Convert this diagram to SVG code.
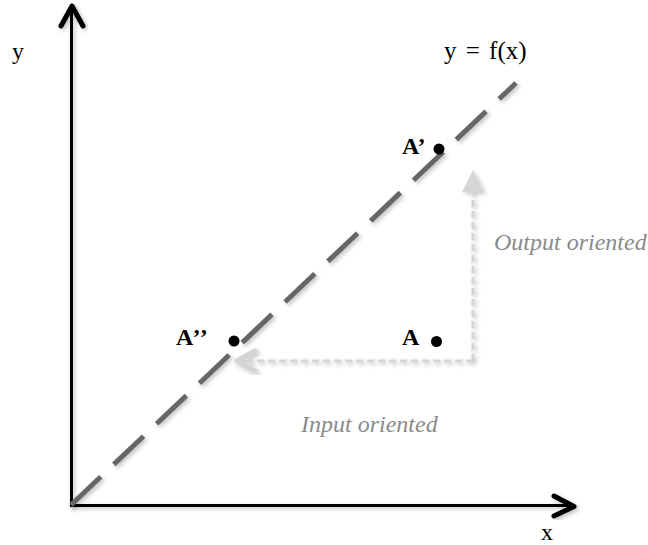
<svg xmlns="http://www.w3.org/2000/svg" width="648" height="545" viewBox="0 0 648 545">
  <defs>
    <filter id="sh" x="-20%" y="-20%" width="140%" height="140%">
      <feDropShadow dx="2" dy="2" stdDeviation="2" flood-color="#000" flood-opacity="0.25"/>
    </filter>
  </defs>
  <style>
    .axis { stroke: #000; stroke-width: 3; fill: none; }
    .head { stroke: #000; stroke-width: 5; fill: none; stroke-linecap: round; stroke-linejoin: round; }
    .func { stroke: #666; stroke-width: 5; fill: none; stroke-dasharray: 41 18; }
    .guide { stroke: #d4d4d4; stroke-width: 3; fill: none; stroke-dasharray: 7 4; }
    .lbl { font-family: "Liberation Serif", "Times New Roman", serif; font-size: 24px; fill: #000; }
    .pt { font-family: "Liberation Serif", "Times New Roman", serif; font-size: 24px; font-weight: bold; fill: #000; }
    .note { font-family: "Liberation Serif", "Times New Roman", serif; font-size: 24px; font-style: italic; fill: #8a8a8a; }
  </style>
  <rect width="648" height="545" fill="#fff"/>

  <g id="connectors">
    <g id="y-axis" filter="url(#sh)">
      <line class="axis" x1="71.5" y1="507" x2="71.5" y2="8"/>
      <polyline class="head" points="61,26 72,6 83,26"/>
    </g>
    <g id="x-axis" filter="url(#sh)">
      <line class="axis" x1="70" y1="505.5" x2="572" y2="505.5"/>
      <polyline class="head" points="554,496 574,506.5 554,516"/>
    </g>
    <g id="function-line" filter="url(#sh)">
      <line class="func" x1="71" y1="505" x2="516" y2="83"/>
    </g>
    <g id="output-arrow" filter="url(#sh)">
      <line class="guide" x1="473" y1="361" x2="473" y2="186"/>
      <polygon points="473,170 462,192 484,192" fill="#d4d4d4" fill-opacity="0.9"/>
    </g>
    <g id="input-arrow" filter="url(#sh)">
      <line class="guide" x1="473" y1="361" x2="240" y2="361"/>
      <polyline points="255,351 237,361 255,371" stroke="#d4d4d4" stroke-width="5" fill="none" stroke-linecap="round" stroke-linejoin="round"/>
    </g>
  </g>

  <g id="axis-labels">
    <text class="lbl" x="12" y="59">y</text>
    <text class="lbl" x="541" y="540">x</text>
    <text class="lbl" x="444" y="59" style="font-size:25px" word-spacing="3">y = f(x)</text>
  </g>

  <g id="point-A1">
    <text class="pt" x="402" y="154">A’</text>
    <circle cx="439" cy="149" r="5.5" fill="#000"/>
  </g>
  <g id="point-A2">
    <text class="pt" x="176" y="345" letter-spacing="1">A’’</text>
    <circle cx="234" cy="341" r="5.5" fill="#000"/>
  </g>
  <g id="point-A">
    <text class="pt" x="402" y="345">A</text>
    <circle cx="436.5" cy="341.5" r="5.5" fill="#000"/>
  </g>

  <g id="notes">
    <text class="note" x="494" y="250">Output oriented</text>
    <text class="note" x="301" y="432">Input oriented</text>
  </g>
</svg>
